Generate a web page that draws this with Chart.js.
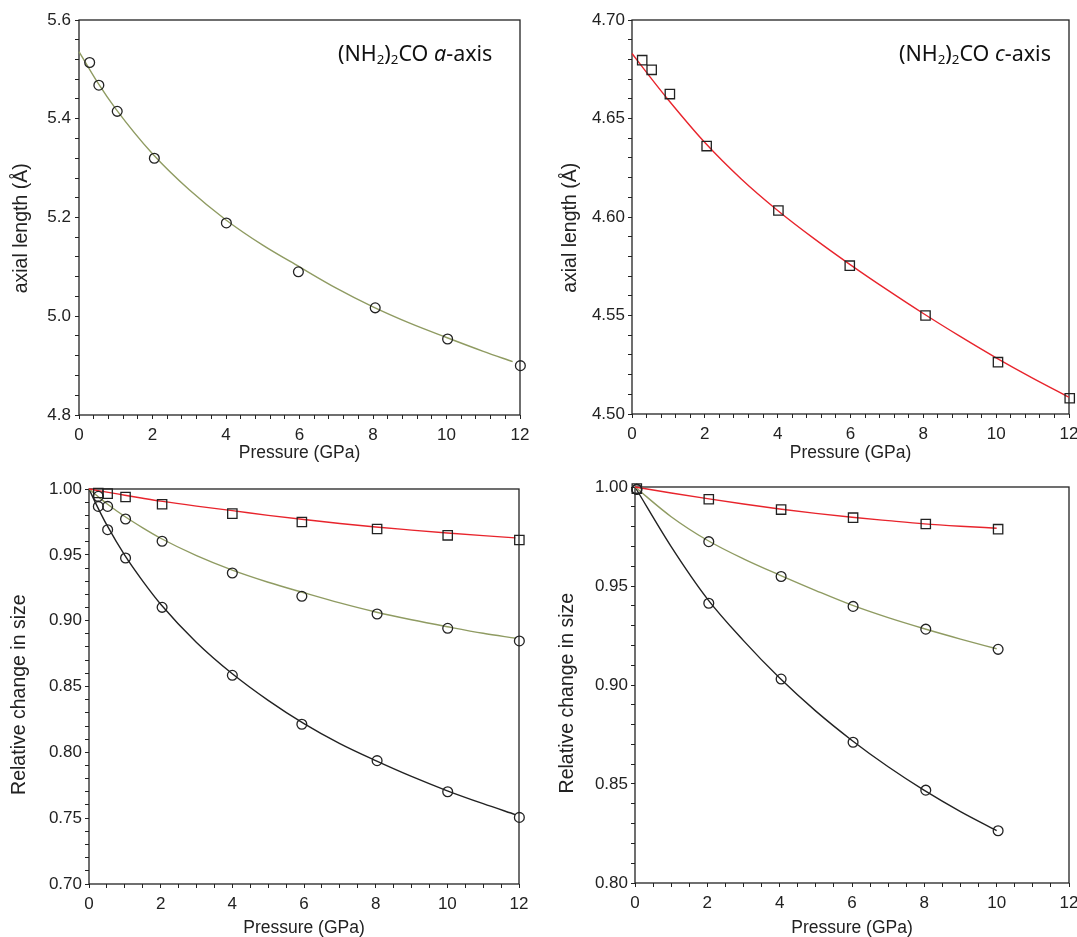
<!DOCTYPE html>
<html>
<head>
<meta charset="utf-8">
<script src="https://cdn.jsdelivr.net/npm/chart.js@4"></script>
<style>
  html, body { margin: 0; padding: 0; background: #fff; }
  #page { position: relative; width: 1077px; height: 937px; overflow: hidden; }
  .box { position: absolute; }
  .note { position: absolute; font-family: 'Noto Sans', sans-serif; font-size: 21.5px; line-height: 1; color: #111; white-space: nowrap; }
  .note sub { font-size: 0.62em; vertical-align: -0.22em; line-height: 0; }
</style>
</head>
<body>
<div id="page">
  <div class="box" style="left:0;top:0;width:540px;height:470px"><canvas id="cA"></canvas></div>
  <div class="box" style="left:540px;top:0;width:560px;height:470px"><canvas id="cC"></canvas></div>
  <div class="box" style="left:0;top:470px;width:540px;height:467px"><canvas id="cR1"></canvas></div>
  <div class="box" style="left:540px;top:470px;width:560px;height:467px"><canvas id="cR2"></canvas></div>
  <div class="note" style="left:338px;top:42px">(NH<sub>2</sub>)<sub>2</sub>CO <i>a</i>-axis</div>
  <div class="note" style="left:899px;top:42px">(NH<sub>2</sub>)<sub>2</sub>CO <i>c</i>-axis</div>
</div>
<script>
// top left: a-axis length vs pressure
const pA = [0.29, 0.54, 1.04, 2.05, 4.01, 5.97, 8.06, 10.03, 12.01];
const aLen = [5.514, 5.468, 5.415, 5.320, 5.189, 5.090, 5.017, 4.954, 4.900];
const pAFit = [0, 0.5, 1, 2, 3, 4, 5, 6, 7, 8, 9, 10, 11, 11.8];
const aFit = [5.536, 5.474, 5.420, 5.329, 5.256, 5.195, 5.144, 5.100, 5.057, 5.019, 4.986, 4.957, 4.929, 4.908];

// top right: c-axis length vs pressure
const pC = [0.28, 0.54, 1.04, 2.05, 4.02, 5.98, 8.06, 10.05, 12.02];
const cLen = [4.6796, 4.6747, 4.6624, 4.6360, 4.6033, 4.5753, 4.5500, 4.5263, 4.5080];
const pCFit = [0, 0.5, 1, 2, 3, 4, 5, 6, 7, 8, 9, 10, 11, 12];
const cFit = [4.6830, 4.6710, 4.6594, 4.6378, 4.6193, 4.6033, 4.5890, 4.5757, 4.5631, 4.5510, 4.5395, 4.5285, 4.5182, 4.5085];

// bottom left: relative change (c, a, volume)
const pR1 = [0.26, 0.52, 1.02, 2.04, 4.00, 5.94, 8.04, 10.01, 12.01];
const cRel1 = [0.9970, 0.9965, 0.9939, 0.9884, 0.9813, 0.9749, 0.9696, 0.9648, 0.9613];
const aRel1 = [0.9944, 0.9868, 0.9772, 0.9603, 0.9362, 0.9185, 0.9051, 0.8942, 0.8846];
const vRel1 = [0.9868, 0.9691, 0.9476, 0.9101, 0.8585, 0.8213, 0.7937, 0.7701, 0.7506];
const pR1Fit = [0, 0.25, 0.5, 1, 1.5, 2, 3, 4, 5, 6, 7, 8, 9, 10, 11, 11.9];
const cRel1Fit = [1.0000, 0.9988, 0.9976, 0.9953, 0.9930, 0.9908, 0.9870, 0.9836, 0.9800, 0.9768, 0.9738, 0.9711, 0.9688, 0.9666, 0.9646, 0.9629];
const aRel1Fit = [1.0000, 0.9943, 0.9888, 0.9791, 0.9705, 0.9626, 0.9494, 0.9384, 0.9292, 0.9212, 0.9135, 0.9066, 0.9007, 0.8954, 0.8904, 0.8866];
const vRel1Fit = [1.0000, 0.9857, 0.9725, 0.9495, 0.9300, 0.9125, 0.8835, 0.8597, 0.8395, 0.8218, 0.8066, 0.7937, 0.7817, 0.7708, 0.7610, 0.7527];

// bottom right: relative change (c, a, volume)
const pR2 = [0.05, 2.04, 4.04, 6.03, 8.04, 10.04];
const cRel2 = [0.9992, 0.9938, 0.9886, 0.9845, 0.9813, 0.9787];
const aRel2 = [0.9988, 0.9724, 0.9548, 0.9397, 0.9282, 0.9180];
const vRel2 = [0.9988, 0.9413, 0.9030, 0.8711, 0.8469, 0.8264];
const pR2Fit = [0, 1, 2, 3, 4, 5, 6, 7, 8, 9, 10];
const cRel2Fit = [1.0000, 0.9970, 0.9941, 0.9914, 0.9889, 0.9867, 0.9847, 0.9830, 0.9814, 0.9802, 0.9792];
const aRel2Fit = [1.0000, 0.9850, 0.9731, 0.9637, 0.9555, 0.9477, 0.9403, 0.9340, 0.9284, 0.9232, 0.9183];
const vRel2Fit = [1.0000, 0.9699, 0.9435, 0.9224, 0.9035, 0.8868, 0.8720, 0.8587, 0.8468, 0.8361, 0.8265];

const FONT = "'Liberation Sans', Arial, sans-serif";
const INK = '#222';
const OLIVE = '#8f9b62';
const RED = '#e8242c';
const NB = '\u00a0';

function pts(xs, ys) {
    return xs.map((x, i) => ({x: x, y: ys[i]}));
}

function markers(xs, ys, style) {
    return {
        data: pts(xs, ys),
        showLine: false,
        pointStyle: style,
        pointRadius: style === 'rect' ? 6.6 : 4.9,
        pointBorderWidth: 1.3,
        pointBorderColor: INK,
        pointBackgroundColor: 'rgba(0,0,0,0)',
        clip: false,
        order: 0,
    };
}

function curve(xs, ys, color) {
    return {
        data: pts(xs, ys),
        showLine: true,
        borderColor: color,
        borderWidth: 1.4,
        pointRadius: 0,
        cubicInterpolationMode: 'monotone',
        fill: false,
        clip: false,
        order: 1,
    };
}

// frame all four sides of the plot area
const frame = {
    id: 'frame',
    beforeDatasetsDraw(chart) {
        const a = chart.chartArea;
        const ctx = chart.ctx;
        ctx.save();
        ctx.strokeStyle = INK;
        ctx.lineWidth = 1.3;
        ctx.strokeRect(a.left, a.top, a.right - a.left, a.bottom - a.top);
        ctx.restore();
    }
};

function onMajor(v, step) {
    return Math.abs(v / step - Math.round(v / step)) < 1e-6;
}

function makeChart(id, o) {
    new Chart(document.getElementById(id), {
        type: 'scatter',
        data: {datasets: o.datasets},
        plugins: [frame],
        options: {
            responsive: true,
            maintainAspectRatio: false,
            animation: false,
            layout: {padding: {top: o.padTop, right: o.padRight, left: 0, bottom: 0}},
            plugins: {legend: {display: false}, tooltip: {enabled: false}},
            scales: {
                x: {
                    type: 'linear',
                    min: 0, max: 12,
                    border: {display: false},
                    grid: {drawOnChartArea: false, drawTicks: true, tickLength: 4, color: INK, lineWidth: 1},
                    ticks: {
                        stepSize: o.xStep, autoSkip: false, maxRotation: 0, padding: 6,
                        color: INK, font: {family: FONT, size: 17},
                        callback: v => onMajor(v, 2) ? String(Math.round(v)) : ''
                    },
                    title: {display: true, text: 'Pressure (GPa)', color: INK,
                        font: {family: FONT, size: 17.5, lineHeight: 1}, padding: {top: 0, bottom: o.xTitlePad}},
                    afterFit: s => { s.height = o.xHeight; }
                },
                y: {
                    type: 'linear',
                    min: o.yMin, max: o.yMax,
                    border: {display: false},
                    grid: {drawOnChartArea: false, drawTicks: true, tickLength: 4, color: INK, lineWidth: 1},
                    ticks: {
                        stepSize: o.yStep, autoSkip: false, padding: o.yTickPad,
                        color: INK, font: {family: FONT, size: 17},
                        callback: v => onMajor(v, o.yMajor) ? v.toFixed(o.yDec) : ''
                    },
                    title: {display: true, text: o.yTitle, color: INK,
                        font: {family: FONT, size: 19.5, lineHeight: 1}, padding: {top: o.yTitlePad, bottom: 0}},
                    afterFit: s => { s.width = o.yWidth; }
                }
            }
        }
    });
}

makeChart('cA', {
    padTop: 20, padRight: 20, yWidth: 79, xHeight: 55,
    xStep: 0.4, yMin: 4.8, yMax: 5.6, yStep: 0.04, yMajor: 0.2, yDec: 1,
    yTitle: 'axial length (Å)' + NB.repeat(4), yTitlePad: 12, yTickPad: 4, xTitlePad: 8,
    datasets: [markers(pA, aLen, 'circle'), curve(pAFit, aFit, OLIVE)]
});

makeChart('cC', {
    padTop: 20, padRight: 31, yWidth: 92, xHeight: 56,
    xStep: 0.4, yMin: 4.5, yMax: 4.7, yStep: 0.01, yMajor: 0.05, yDec: 2,
    yTitle: 'axial length (Å)' + NB.repeat(4), yTitlePad: 21, yTickPad: 3, xTitlePad: 8,
    datasets: [markers(pC, cLen, 'rect'), curve(pCFit, cFit, RED)]
});

makeChart('cR1', {
    padTop: 19, padRight: 21, yWidth: 89, xHeight: 53,
    xStep: 0.5, yMin: 0.7, yMax: 1.0, yStep: 0.01, yMajor: 0.05, yDec: 2,
    yTitle: 'Relative change in size' + NB.repeat(3), yTitlePad: 10, yTickPad: 3, xTitlePad: 0,
    datasets: [
        markers(pR1, cRel1, 'rect'), markers(pR1, aRel1, 'circle'), markers(pR1, vRel1, 'circle'),
        curve(pR1Fit, cRel1Fit, RED), curve(pR1Fit, aRel1Fit, OLIVE), curve(pR1Fit, vRel1Fit, INK)
    ]
});

makeChart('cR2', {
    padTop: 17, padRight: 31, yWidth: 95, xHeight: 54,
    xStep: 0.5, yMin: 0.8, yMax: 1.0, yStep: 0.01, yMajor: 0.05, yDec: 2,
    yTitle: 'Relative change in size' + NB.repeat(3), yTitlePad: 18, yTickPad: 3, xTitlePad: 0,
    datasets: [
        markers(pR2, cRel2, 'rect'), markers(pR2, aRel2, 'circle'), markers(pR2, vRel2, 'circle'),
        curve(pR2Fit, cRel2Fit, RED), curve(pR2Fit, aRel2Fit, OLIVE), curve(pR2Fit, vRel2Fit, INK)
    ]
});
</script>
</body>
</html>
